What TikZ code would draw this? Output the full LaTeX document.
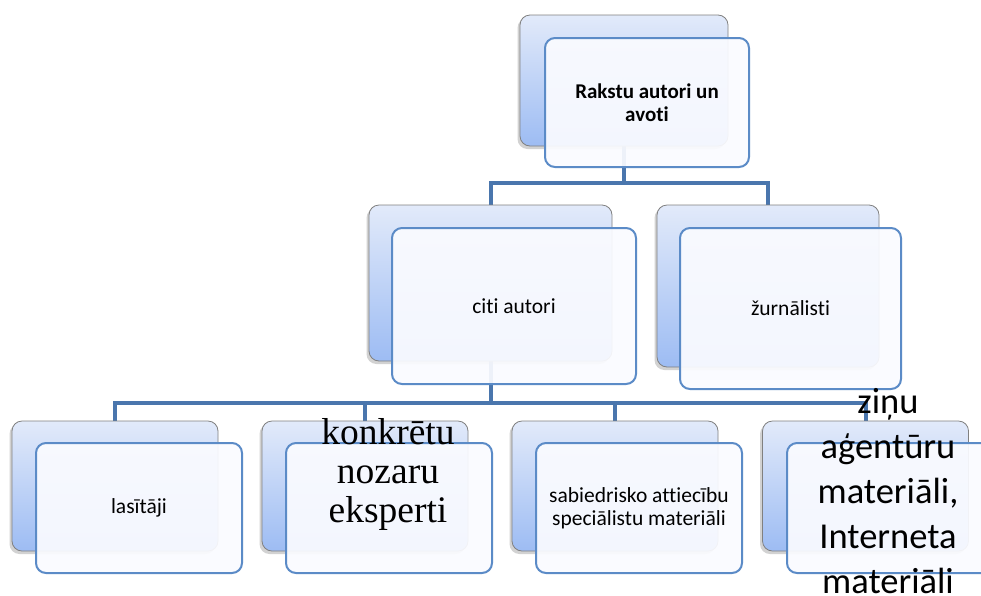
\documentclass[tikz,border=0pt]{standalone}
\usepackage{fontspec}
\setmainfont{Carlito}[Ligatures=NoCommon, RawFeature={-liga;-clig;-calt;-dlig}]
\newfontfamily\serifbig{Liberation Serif}
\usetikzlibrary{shadows}
\pgfdeclarelayer{background}
\pgfsetlayers{background,main}
\definecolor{conn}{HTML}{4A76AD}
\definecolor{frontedge}{HTML}{5B8BC7}
\definecolor{frontfill}{HTML}{FAFBFF}
\definecolor{backtop}{HTML}{E2EAFA}
\definecolor{backbot}{HTML}{9DBCF3}
\definecolor{backedge}{HTML}{808080}
\begin{document}
\begin{tikzpicture}[x=1pt,y=-1pt,
  backbox/.style={draw=backedge, line width=0.8pt, rounded corners=10pt,
    top color=backtop, bottom color=backbot, inner sep=0pt, outer sep=0pt,
    drop shadow={shadow xshift=-2.5pt, shadow yshift=-3pt, opacity=0.35}},
  frontbox/.style={draw=frontedge, line width=2pt, rounded corners=10pt,
    fill=frontfill, fill opacity=0.93, text opacity=1, inner sep=0pt, outer sep=0pt,
    align=center, font=\fontsize{21.5}{23}\selectfont},
  connector/.style={draw=conn, line width=4pt},
  bigserif/.style={align=center, inner sep=0pt, font=\serifbig\fontsize{37.5}{39}\selectfont},
  bigsans/.style={align=center, inner sep=0pt, font=\fontsize{36.5}{45}\selectfont}
]
\useasboundingbox (0,0) rectangle (981,595);
\clip (0,0) rectangle (981,595);

% back boxes
\node[backbox, minimum width=208pt, minimum height=131pt] (t0) at (624,80.5) {};
\node[backbox, minimum width=243pt, minimum height=156pt] (m1) at (490.5,283) {};
\node[backbox, minimum width=222pt, minimum height=162pt] (m2) at (768,286) {};
\node[backbox, minimum width=206pt, minimum height=130pt] (b1) at (115,486) {};
\node[backbox, minimum width=206pt, minimum height=130pt] (b2) at (365,486) {};
\node[backbox, minimum width=206pt, minimum height=130pt] (b3) at (615,486) {};
\node[backbox, minimum width=206pt, minimum height=130pt] (b4) at (865.5,486) {};

% bus coordinates
\coordinate (bus1) at (0,183);
\coordinate (bus2) at (0,403);

% page background and connectors (behind the boxes)
\begin{pgfonlayer}{background}
\fill[white] (0,0) rectangle (981,595);
\draw[connector] (t0.south) -- (t0.south |- bus1);
\draw[connector] (m1.north) |- (t0.south |- bus1) -| (m2.north);
\draw[connector] (m1.south) -- (m1.south |- bus2);
\draw[connector] (b1.north) |- (m1.south |- bus2) -| (b4.north);
\draw[connector] (b2.north) -- (b2.north |- bus2);
\draw[connector] (b3.north) -- (b3.north |- bus2);
\end{pgfonlayer}

% front boxes
\node[frontbox, minimum width=204pt, minimum height=129pt, font=\fontsize{21}{23}\selectfont\bfseries] (f0) at (647,102.5) {Rakstu autori un\\avoti};
\node[frontbox, minimum width=244pt, minimum height=156pt] (g1) at (514,306) {citi autori};
\node[frontbox, minimum width=221pt, minimum height=161pt] (g2) at (790.5,308.5) {žurnālisti};
\node[frontbox, minimum width=206pt, minimum height=130pt] (c1) at (139,508) {lasītāji};
\node[frontbox, minimum width=206pt, minimum height=130pt] (c2) at (389,508) {};
\node[frontbox, minimum width=206pt, minimum height=130pt] (c3) at (639,508) {sabiedrisko attiecību\\speciālistu materiāli};
\node[frontbox, minimum width=206pt, minimum height=130pt] (c4) at (890,508) {};

% overflowing texts
\node[bigserif] (c2t) at (388,474) {konkrētu\\nozaru\\eksperti};
\node[bigsans] (c4t) at (888,491) {ziņu\\aģentūru\\materiāli,\\Interneta\\materiāli};
\end{tikzpicture}
\end{document}
